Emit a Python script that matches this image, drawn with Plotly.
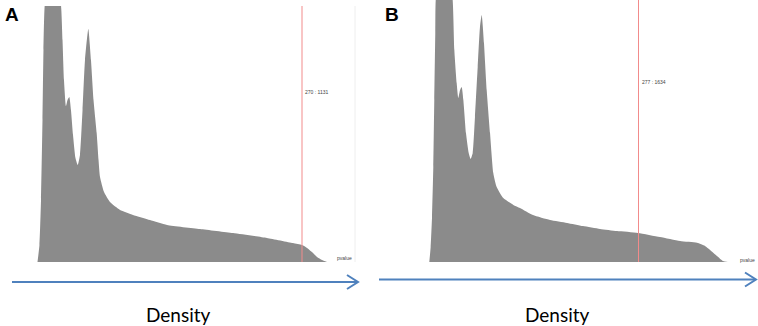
import plotly.graph_objects as go

# ---------------- data ----------------
# Panel A density curve (x: score, y: relative density; peak exceeds the visible range)
a_x = [0.5, 2.5, 4.1, 5.6, 6.6, 7.8, 15.3, 24.5, 26.0, 27.5, 29.5, 31.1, 32.9, 34.6, 36.7,
       39.2, 41.5, 43.8, 46.4, 48.9, 52.3, 55.0, 57.6, 60.8, 62.7, 64.2, 68.3, 74.4, 84.6,
       97.8, 115.1, 132.5, 166.1, 199.7, 234.3, 260.8, 270.0, 275.1, 280.2, 285.3, 290.4, 295.5]
a_y = [0, 6.6, 24.2, 55.5, 82.8, 100, 125.8, 100, 86.7, 71.1, 60.9, 63.3, 64.5, 59.4, 49.6,
       40.6, 37.9, 41.8, 59.4, 78.9, 91.0, 78.9, 63.3, 50.4, 39.8, 33.2, 27.3, 23.4, 20.3,
       18.4, 16.4, 14.5, 12.9, 11.3, 9.4, 7.4, 6.6, 5.5, 3.9, 2.0, 0.8, 0]

# Panel B density curve
b_x = [0.4, 2.2, 4.0, 5.7, 7.0, 8.3, 8.9, 19.8, 31.3, 33.5, 36.6, 38.7, 41.0, 43.2, 45.4,
       48.9, 52.5, 55.1, 57.8, 60.8, 64.4, 67.4, 69.7, 72.7, 76.3, 80.7, 85.0, 89.5, 98.2,
       111.5, 120.3, 137.5, 160.0, 182.5, 203.6, 226.1, 248.6, 276.3, 305.4, 331.9, 354.4,
       364.9, 371.6, 380.8, 388.7, 395.3]
b_y = [0, 5.7, 17.2, 36.3, 61.8, 87.4, 100, 126.7, 100, 80.9, 68.3, 62.6, 65.6, 66.8, 61.8,
       49.2, 41.6, 39.3, 41.6, 55.3, 74.4, 89.7, 94.3, 83.6, 65.6, 49.2, 34.0, 28.6, 24.4,
       21.8, 20.6, 17.9, 16.0, 14.9, 13.7, 12.6, 11.8, 11.1, 9.5, 8.0, 7.3,
       6.1, 4.6, 2.3, 0.4, 0]

panel_labels = ["A", "B"]
thresholds = [270, 277]
threshold_counts = [1131, 1634]
axis_label = "Density"
corner_label = "pvalue"

GREY = "#8b8b8b"
RED = "#f28b8b"
BLUE = "#4f81bd"

W, H = 758, 326
def px(x):
    return x / W
def py(y):
    return 1 - y / H

fig = go.Figure()

fig.add_trace(go.Scatter(x=a_x, y=a_y, mode="lines", fill="tozeroy",
                         line=dict(width=0, color=GREY, shape="spline", smoothing=0.5),
                         fillcolor=GREY, xaxis="x", yaxis="y", hoverinfo="skip"))
fig.add_trace(go.Scatter(x=b_x, y=b_y, mode="lines", fill="tozeroy",
                         line=dict(width=0, color=GREY, shape="spline", smoothing=0.5),
                         fillcolor=GREY, xaxis="x2", yaxis="y2", hoverinfo="skip"))

# threshold lines
fig.add_trace(go.Scatter(x=[thresholds[0]] * 2, y=[0, 100], mode="lines",
                         line=dict(width=1, color=RED), xaxis="x", yaxis="y", hoverinfo="skip"))
fig.add_trace(go.Scatter(x=[thresholds[1]] * 2, y=[0, 100], mode="lines",
                         line=dict(width=1, color=RED), xaxis="x2", yaxis="y2", hoverinfo="skip"))

ydom = [py(262), py(6)]
fig.update_layout(
    width=W, height=H, margin=dict(l=0, r=0, t=0, b=0),
    paper_bgcolor="white", plot_bgcolor="rgba(0,0,0,0)", showlegend=False,
    xaxis=dict(domain=[px(37), px(355)], range=[0, 324], visible=False, fixedrange=True),
    yaxis=dict(domain=ydom, range=[0, 100], visible=False, fixedrange=True),
    xaxis2=dict(domain=[px(429), 1.0], range=[0, 435], visible=False, fixedrange=True),
    yaxis2=dict(domain=[py(262), 1.0], range=[0, 100], visible=False, fixedrange=True),
)

shapes = []
# faint right border of panel A
shapes.append(dict(type="line", xref="x domain", yref="y domain", x0=1, x1=1, y0=0, y1=1,
                   line=dict(color="#eeeeee", width=1)))
# arrows
for (x0, x1, y) in [(12, 358, 282), (379, 756, 279.5)]:
    shapes.append(dict(type="line", xref="paper", yref="paper",
                       x0=px(x0), x1=px(x1 - 1), y0=py(y), y1=py(y),
                       line=dict(color=BLUE, width=2)))
    shapes.append(dict(type="path", xref="paper", yref="paper",
                       path=f"M {px(x1-11)} {py(y-7)} L {px(x1)} {py(y)} L {px(x1-11)} {py(y+7)}",
                       line=dict(color=BLUE, width=2)))
fig.update_layout(shapes=shapes)

ann = []
# panel letters
for lab, x in zip(panel_labels, [3, 383]):
    ann.append(dict(text=f"<b>{lab}</b>", xref="paper", yref="paper", x=px(x), y=py(2),
                    xanchor="left", yanchor="top", showarrow=False,
                    font=dict(family="Liberation Sans", size=19, color="black")))
# Density labels
for cx in [178, 557]:
    ann.append(dict(text=axis_label, xref="paper", yref="paper", x=px(cx), y=py(314),
                    xanchor="center", yanchor="middle", showarrow=False,
                    font=dict(family="Lato", size=19, color="black")))
# threshold labels
ann.append(dict(text=f"{thresholds[0]} : {threshold_counts[0]}", xref="x", yref="y",
                x=thresholds[0], y=66.4, xanchor="left", yanchor="middle", xshift=1,
                showarrow=False, font=dict(family="Liberation Sans", size=5, color="#444")))
ann.append(dict(text=f"{thresholds[1]} : {threshold_counts[1]}", xref="x2", yref="y2",
                x=thresholds[1], y=68.7, xanchor="left", yanchor="middle", xshift=1,
                showarrow=False, font=dict(family="Liberation Sans", size=5, color="#444")))
# pvalue corner labels
ann.append(dict(text=corner_label, xref="x", yref="y", x=304, y=1.6, xanchor="left",
                yanchor="middle", showarrow=False,
                font=dict(family="Liberation Sans", size=5, color="#444")))
ann.append(dict(text=corner_label, xref="paper", yref="y2", x=1.0, y=0.6, xanchor="right",
                yanchor="middle", showarrow=False, xshift=-1,
                font=dict(family="Liberation Sans", size=5, color="#444")))
fig.update_layout(annotations=ann)

fig.write_html("out.html", config={"displayModeBar": False},
               post_script="document.body.style.margin='0';document.body.style.overflow='hidden';")
